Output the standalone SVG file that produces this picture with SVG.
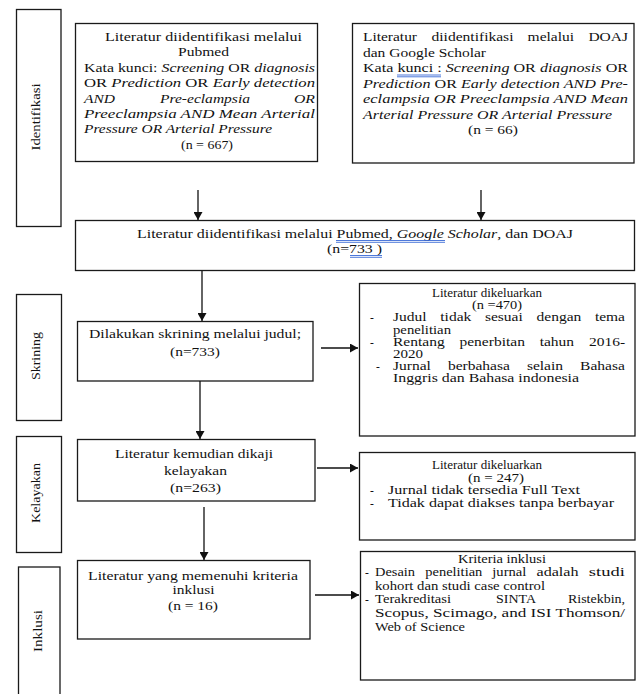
<svg xmlns="http://www.w3.org/2000/svg" width="637" height="694" viewBox="0 0 637 694">
<defs>
<style>
.box{fill:#fff;stroke:#1a1a1a;stroke-width:1.3}
text{font-family:"Liberation Serif","Times New Roman",serif;font-size:13px;fill:#111}
.r text{font-size:11.5px}
.i{font-style:italic}
.conn line{stroke:#111;stroke-width:1.3}
.ul{stroke:#3a6ad6;stroke-width:0.9}
</style>
<marker id="ah" viewBox="0 0 8 9" refX="8" refY="4.5" markerWidth="8" markerHeight="9" markerUnits="userSpaceOnUse" orient="auto">
<path d="M0,0 L8,4.5 L0,9 z" fill="#111"/>
</marker>
</defs>
<rect width="637" height="694" fill="#fff"/>

<g id="label-identifikasi">
<rect class="box" x="16.5" y="9.5" width="44.5" height="217"/>
<text transform="translate(35,117) rotate(-90)" x="-33.5" y="4.5" textLength="67" lengthAdjust="spacingAndGlyphs">Identifikasi</text>
</g>
<g id="label-skrining">
<rect class="box" x="16.5" y="294.5" width="45" height="126"/>
<text transform="translate(35,356) rotate(-90)" x="-24" y="4.5" textLength="48" lengthAdjust="spacingAndGlyphs">Skrining</text>
</g>
<g id="label-kelayakan">
<rect class="box" x="16.5" y="436.5" width="45" height="116"/>
<text transform="translate(35,493) rotate(-90)" x="-30" y="4.5" textLength="60" lengthAdjust="spacingAndGlyphs">Kelayakan</text>
</g>
<g id="label-inklusi">
<rect class="box" x="18.5" y="567" width="41.5" height="140"/>
<text transform="translate(37,631) rotate(-90)" x="-21" y="4.5" textLength="42" lengthAdjust="spacingAndGlyphs">Inklusi</text>
</g>

<g id="box-pubmed">
<rect class="box" x="75.5" y="23.5" width="242" height="138"/>
<text x="105" y="40.5" textLength="197" lengthAdjust="spacingAndGlyphs">Literatur diidentifikasi melalui</text>
<text x="178" y="56" textLength="51" lengthAdjust="spacingAndGlyphs">Pubmed</text>
<text x="84" y="71.5" textLength="231" lengthAdjust="spacingAndGlyphs">Kata kunci: <tspan class="i">Screening</tspan> OR <tspan class="i">diagnosis</tspan></text>
<text x="84" y="87" textLength="231" lengthAdjust="spacingAndGlyphs">OR <tspan class="i">Prediction</tspan> OR <tspan class="i">Early detection</tspan></text>
<text class="i" x="84" y="102.5" textLength="31" lengthAdjust="spacingAndGlyphs">AND</text>
<text class="i" x="160" y="102.5" textLength="90" lengthAdjust="spacingAndGlyphs">Pre-eclampsia</text>
<text class="i" x="294" y="102.5" textLength="21" lengthAdjust="spacingAndGlyphs">OR</text>
<text class="i" x="84" y="118" textLength="231" lengthAdjust="spacingAndGlyphs">Preeclampsia AND Mean Arterial</text>
<text class="i" x="84" y="133" textLength="188" lengthAdjust="spacingAndGlyphs">Pressure OR Arterial Pressure</text>
<text x="181" y="149" textLength="52" lengthAdjust="spacingAndGlyphs">(n = 667)</text>
</g>

<g id="box-doaj">
<rect class="box" x="352.5" y="23.5" width="281.5" height="139.5"/>
<text x="363" y="40.5" textLength="54" lengthAdjust="spacingAndGlyphs">Literatur</text>
<text x="431.5" y="40.5" textLength="82" lengthAdjust="spacingAndGlyphs">diidentifikasi</text>
<text x="527.6" y="40.5" textLength="46.5" lengthAdjust="spacingAndGlyphs">melalui</text>
<text x="588.4" y="40.5" textLength="39.6" lengthAdjust="spacingAndGlyphs">DOAJ</text>
<text x="363" y="56.5" textLength="123" lengthAdjust="spacingAndGlyphs">dan Google Scholar</text>
<text x="363" y="72" textLength="265" lengthAdjust="spacingAndGlyphs">Kata kunci : <tspan class="i">Screening</tspan> OR <tspan class="i">diagnosis</tspan> OR</text>
<text x="363" y="87.5" textLength="265" lengthAdjust="spacingAndGlyphs"><tspan class="i">Prediction</tspan> OR <tspan class="i">Early detection AND Pre-</tspan></text>
<text class="i" x="363" y="103" textLength="265" lengthAdjust="spacingAndGlyphs">eclampsia OR Preeclampsia AND Mean</text>
<text class="i" x="363" y="118.5" textLength="249" lengthAdjust="spacingAndGlyphs">Arterial Pressure OR Arterial Pressure</text>
<text x="468" y="134" textLength="50" lengthAdjust="spacingAndGlyphs">(n = 66)</text>
</g>

<g id="box-gabungan">
<rect class="box" x="75.5" y="220.5" width="559" height="50"/>
<text x="137" y="238" textLength="436" lengthAdjust="spacingAndGlyphs">Literatur diidentifikasi melalui Pubmed,  <tspan class="i">Google Scholar</tspan>, dan DOAJ</text>
<text x="327" y="253" textLength="55" lengthAdjust="spacingAndGlyphs">(n=733 )</text>
</g>

<g id="box-skrining">
<rect class="box" x="77.5" y="321.5" width="235.5" height="59.5"/>
<text x="89" y="337.5" textLength="212" lengthAdjust="spacingAndGlyphs">Dilakukan skrining melalui judul;</text>
<text x="170" y="356" textLength="50" lengthAdjust="spacingAndGlyphs">(n=733)</text>
</g>

<g id="box-kelayakan">
<rect class="box" x="77.5" y="439.5" width="237.5" height="61.5"/>
<text x="115" y="457.5" textLength="158" lengthAdjust="spacingAndGlyphs">Literatur kemudian dikaji</text>
<text x="164" y="474.5" textLength="63" lengthAdjust="spacingAndGlyphs">kelayakan</text>
<text x="170" y="491.5" textLength="51" lengthAdjust="spacingAndGlyphs">(n=263)</text>
</g>

<g id="box-inklusi">
<rect class="box" x="77.5" y="560.5" width="232.5" height="78.5"/>
<text x="88" y="579.5" textLength="210" lengthAdjust="spacingAndGlyphs">Literatur yang memenuhi kriteria</text>
<text x="172.5" y="593.5" textLength="42" lengthAdjust="spacingAndGlyphs">inklusi</text>
<text x="168" y="609.5" textLength="50" lengthAdjust="spacingAndGlyphs">(n = 16)</text>
</g>

<g id="box-dikeluarkan-470" class="r">
<rect class="box" x="359.5" y="283.5" width="275.5" height="152.5"/>
<text x="432" y="297" textLength="110" lengthAdjust="spacingAndGlyphs">Literatur dikeluarkan</text>
<text x="472" y="309.2" textLength="50" lengthAdjust="spacingAndGlyphs">(n =470)</text>
<text x="370" y="321.4">-</text>
<text x="393" y="321.4" textLength="33.6" lengthAdjust="spacingAndGlyphs">Judul</text>
<text x="440.3" y="321.4" textLength="31" lengthAdjust="spacingAndGlyphs">tidak</text>
<text x="484.9" y="321.4" textLength="37.9" lengthAdjust="spacingAndGlyphs">sesuai</text>
<text x="536.5" y="321.4" textLength="44.8" lengthAdjust="spacingAndGlyphs">dengan</text>
<text x="594.9" y="321.4" textLength="30.1" lengthAdjust="spacingAndGlyphs">tema</text>
<text x="393" y="333.6" textLength="58" lengthAdjust="spacingAndGlyphs">penelitian</text>
<text x="370" y="345.8">-</text>
<text x="393" y="345.8" textLength="51.7" lengthAdjust="spacingAndGlyphs">Rentang</text>
<text x="459.5" y="345.8" textLength="65.4" lengthAdjust="spacingAndGlyphs">penerbitan</text>
<text x="539.7" y="345.8" textLength="34.4" lengthAdjust="spacingAndGlyphs">tahun</text>
<text x="588.9" y="345.8" textLength="36.2" lengthAdjust="spacingAndGlyphs">2016-</text>
<text x="393" y="358" textLength="30" lengthAdjust="spacingAndGlyphs">2020</text>
<text x="376" y="370.2">-</text>
<text x="393" y="370.2" textLength="37.9" lengthAdjust="spacingAndGlyphs">Jurnal</text>
<text x="447.9" y="370.2" textLength="62" lengthAdjust="spacingAndGlyphs">berbahasa</text>
<text x="526.9" y="370.2" textLength="36.2" lengthAdjust="spacingAndGlyphs">selain</text>
<text x="580.1" y="370.2" textLength="44.8" lengthAdjust="spacingAndGlyphs">Bahasa</text>
<text x="393" y="382.4" textLength="186" lengthAdjust="spacingAndGlyphs">Inggris dan Bahasa indonesia</text>
</g>

<g id="box-dikeluarkan-247" class="r">
<rect class="box" x="359.5" y="452.5" width="275.5" height="87.5"/>
<text x="432" y="469" textLength="110" lengthAdjust="spacingAndGlyphs">Literatur dikeluarkan</text>
<text x="468" y="481.5" textLength="56" lengthAdjust="spacingAndGlyphs">(n = 247)</text>
<text x="370" y="494">-</text>
<text x="388" y="494" textLength="192" lengthAdjust="spacingAndGlyphs">Jurnal tidak tersedia Full Text</text>
<text x="370" y="506.5">-</text>
<text x="388" y="506.5" textLength="226" lengthAdjust="spacingAndGlyphs">Tidak dapat diakses tanpa berbayar</text>
</g>

<g id="box-kriteria" class="r">
<rect class="box" x="360.5" y="551.5" width="274.5" height="128.5"/>
<text x="458" y="563" textLength="88" lengthAdjust="spacingAndGlyphs">Kriteria inklusi</text>
<text x="365" y="576">-</text>
<text x="375" y="576" textLength="40" lengthAdjust="spacingAndGlyphs">Desain</text>
<text x="425.3" y="576" textLength="57" lengthAdjust="spacingAndGlyphs">penelitian</text>
<text x="492.3" y="576" textLength="34" lengthAdjust="spacingAndGlyphs">jurnal</text>
<text x="536.5" y="576" textLength="42" lengthAdjust="spacingAndGlyphs">adalah</text>
<text x="588.8" y="576" textLength="36" lengthAdjust="spacingAndGlyphs">studi</text>
<text x="375" y="589.5" textLength="170" lengthAdjust="spacingAndGlyphs">kohort dan studi case control</text>
<text x="365" y="603">-</text>
<text x="375" y="603" textLength="76" lengthAdjust="spacingAndGlyphs">Terakreditasi</text>
<text x="496" y="603" textLength="40" lengthAdjust="spacingAndGlyphs">SINTA</text>
<text x="568" y="603" textLength="57" lengthAdjust="spacingAndGlyphs">Ristekbin,</text>
<text x="375" y="617" textLength="250" lengthAdjust="spacingAndGlyphs">Scopus, Scimago, and ISI Thomson/</text>
<text x="375" y="631" textLength="90" lengthAdjust="spacingAndGlyphs">Web of Science</text>
</g>

<g id="spellcheck-marks">
<line class="ul" x1="397" y1="75" x2="441" y2="75"/>
<line class="ul" x1="397" y1="76.8" x2="441" y2="76.8"/>
<line class="ul" x1="336" y1="240.5" x2="445" y2="240.5"/>
<line class="ul" x1="336" y1="242.3" x2="445" y2="242.3"/>
<line class="ul" x1="350" y1="255.5" x2="382" y2="255.5"/>
<line class="ul" x1="350" y1="257.3" x2="382" y2="257.3"/>
</g>

<g id="connectors" class="conn">
<line x1="198" y1="190" x2="198" y2="220" marker-end="url(#ah)"/>
<line x1="481" y1="190" x2="481" y2="220" marker-end="url(#ah)"/>
<line x1="202" y1="271" x2="202" y2="321" marker-end="url(#ah)"/>
<line x1="200" y1="381" x2="200" y2="439" marker-end="url(#ah)"/>
<line x1="204" y1="507" x2="204" y2="560" marker-end="url(#ah)"/>
<line x1="321" y1="348" x2="358" y2="348" marker-end="url(#ah)"/>
<line x1="317" y1="468" x2="358" y2="468" marker-end="url(#ah)"/>
<line x1="315" y1="595" x2="359" y2="595" marker-end="url(#ah)"/>
</g>
</svg>
